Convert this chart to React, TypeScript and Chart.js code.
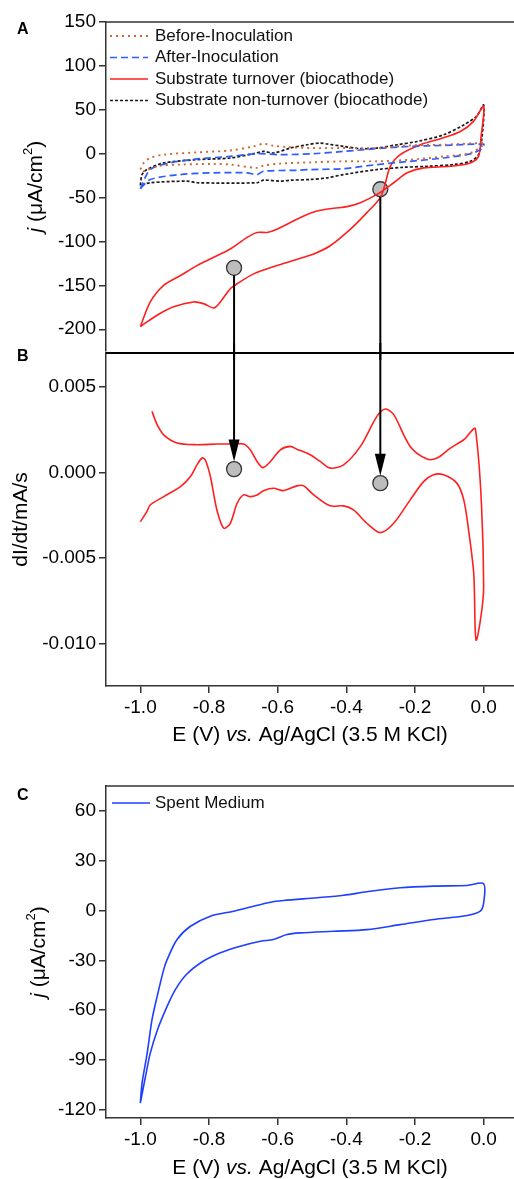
import React, { useEffect, useRef } from 'react';
import { Chart, registerables } from 'chart.js';
Chart.register(...registerables);

const FONT = '"Liberation Sans", Arial, Helvetica, sans-serif';

// ---------- shared x axis ----------
const X_MIN = -1.1;
const X_MAX = 0.1;
const X_TICKS = [-1.0, -0.8, -0.6, -0.4, -0.2, 0.0];

// ---------- Panel A ----------
const A_Y_MIN = -225;
const A_Y_MAX = 150;
const A_Y_TICKS = [150, 100, 50, 0, -50, -100, -150, -200];

const BEFORE_E = [-1.0, -0.99, -0.971, -0.932, -0.835, -0.738, -0.67, -0.641, -0.612, -0.573, -0.505, -0.408, -0.311, -0.214, -0.117, 0.0, 0.0, -0.039, -0.117, -0.214, -0.311, -0.408, -0.495, -0.592, -0.641, -0.66, -0.738, -0.786, -0.883, -0.951, -0.99, -1.0];
const BEFORE_J = [-18, -10.5, -4.9, -1.1, 1.5, 3.7, 8.3, 11.3, 9.0, 7.6, 6.4, 6.4, 6.4, 9.4, 10.2, 12.1, 10.2, 0.8, -3.1, -6.8, -8.7, -8.7, -9.8, -11.3, -13.6, -16.2, -12.4, -11.7, -12.4, -14.4, -20, -18];

const AFTER_E = [-1.0, -0.971, -0.913, -0.835, -0.738, -0.66, -0.592, -0.495, -0.408, -0.311, -0.214, -0.117, 0.0, 0.0, -0.01, -0.039, -0.117, -0.214, -0.311, -0.408, -0.505, -0.544, -0.641, -0.66, -0.689, -0.786, -0.883, -0.971, -1.0];
const AFTER_J = [-40, -18.1, -10.5, -6.0, -3.1, 0, -1.1, 0, 2.6, 5.7, 8.3, 9.4, 11.0, 9.0, 4.5, -0.3, -4.9, -8.7, -12.4, -17.0, -18.1, -18.9, -20.0, -23.8, -21.8, -21.8, -23.8, -29.4, -40];

const TURN_E = [-1.0, -0.951, -0.903, -0.845, -0.816, -0.786, -0.767, -0.738, -0.718, -0.67, -0.602, -0.534, -0.495, -0.447, -0.388, -0.34, -0.301, -0.286, -0.272, -0.243, -0.184, -0.117, -0.068, -0.03, 0.0, -0.008, -0.015, -0.039, -0.097, -0.175, -0.223, -0.262, -0.311, -0.359, -0.398, -0.437, -0.485, -0.524, -0.563, -0.602, -0.631, -0.66, -0.689, -0.738, -0.786, -0.835, -0.883, -0.932, -0.971, -1.0];
const TURN_J = [-197, -184, -174.5, -168.9, -170.8, -175.7, -168.9, -153.8, -148.2, -136.9, -127.5, -119.1, -114.3, -104.9, -86.0, -67.1, -50, -33, -14.4, -1.1, 10.2, 18.1, 25.2, 36.5, 54, 17.8, -3.1, -10.5, -14.4, -16.2, -21.8, -33.1, -46.4, -55.8, -60.3, -62.2, -65.3, -70.9, -78.4, -86.0, -89.7, -89.7, -95.4, -108.6, -118.0, -127.5, -138.8, -150.1, -168.9, -197];

const NONTURN_E = [-1.0, -0.995, -0.981, -0.932, -0.835, -0.738, -0.67, -0.641, -0.612, -0.563, -0.514, -0.476, -0.456, -0.408, -0.359, -0.311, -0.252, -0.194, -0.117, -0.058, -0.02, 0.0, -0.005, -0.015, -0.039, -0.087, -0.165, -0.233, -0.311, -0.408, -0.456, -0.505, -0.563, -0.592, -0.641, -0.66, -0.835, -0.864, -0.971, -1.0];
const NONTURN_J = [-36, -24, -18.1, -10.5, -6.8, -4.9, 0, 2.6, 0.8, 6.4, 10.2, 12.1, 11.0, 8.3, 5.7, 6.4, 10.2, 13.9, 21.5, 32.8, 43, 55.4, 17.8, -1.1, -8.7, -12.4, -14.4, -15.5, -18.1, -23.8, -27.5, -29.4, -30.2, -31.3, -30.2, -33.1, -33.1, -31.3, -33.1, -36];

// markers + arrows linking A to B
const ARROW_E = [-0.727, -0.301];
const MARK_A_J = [-130, -40.5];
const MARK_B_V = [0.0002, -0.00062];

// ---------- Panel B ----------
const B_Y_MIN = -0.0125;
const B_Y_MAX = 0.007;
const B_Y_TICKS = [0.005, 0.0, -0.005, -0.01];

const DIDT_E = [-0.966, -0.951, -0.932, -0.893, -0.835, -0.777, -0.738, -0.699, -0.68, -0.66, -0.643, -0.621, -0.592, -0.563, -0.544, -0.505, -0.476, -0.447, -0.408, -0.359, -0.311, -0.286, -0.262, -0.214, -0.165, -0.136, -0.097, -0.058, -0.024, 0.0, -0.022, -0.029, -0.044, -0.058, -0.078, -0.117, -0.146, -0.175, -0.214, -0.262, -0.301, -0.34, -0.379, -0.408, -0.447, -0.495, -0.524, -0.544, -0.583, -0.612, -0.641, -0.66, -0.68, -0.699, -0.718, -0.738, -0.757, -0.777, -0.796, -0.811, -0.82, -0.835, -0.854, -0.883, -0.932, -0.971, -0.981, -1.0];
const DIDT_V = [0.00358, 0.0028, 0.00221, 0.00173, 0.00163, 0.00167, 0.00167, 0.00167, 0.00133, 0.00065, 0.00029, 0.00065, 0.00133, 0.00153, 0.00137, 0.00104, 0.00065, 0.00026, 0.00045, 0.00153, 0.00329, 0.00372, 0.00339, 0.00153, 0.00079, 0.00085, 0.00143, 0.00192, 0.00255, -0.00669, -0.00982, -0.0059, -0.00336, -0.0016, -0.00062, -0.00013, -0.00013, -0.00053, -0.0016, -0.00297, -0.00352, -0.00297, -0.00219, -0.00195, -0.00195, -0.00131, -0.00078, -0.00078, -0.00106, -0.00092, -0.00106, -0.00131, -0.00141, -0.00131, -0.0018, -0.00297, -0.00326, -0.00219, -0.00023, 0.00075, 0.00085, 0.00045, -0.00023, -0.00082, -0.00141, -0.0019, -0.00229, -0.00288];

// ---------- Panel C ----------
const C_Y_MIN = -125;
const C_Y_MAX = 75;
const C_Y_TICKS = [60, 30, 0, -30, -60, -90, -120];

const SPENT_E = [-1.0, -0.995, -0.98, -0.966, -0.951, -0.932, -0.922, -0.893, -0.854, -0.796, -0.728, -0.67, -0.621, -0.583, -0.485, -0.408, -0.34, -0.243, -0.146, -0.048, 0.0, 0.0, -0.01, -0.048, -0.146, -0.243, -0.34, -0.437, -0.534, -0.573, -0.612, -0.65, -0.709, -0.767, -0.825, -0.866, -0.898, -0.922, -0.95, -0.971, -0.985, -1.0];
const SPENT_J = [-116, -104, -85.9, -65.8, -51.7, -35.6, -29.6, -17.5, -9.5, -3.4, -0.4, 2.6, 5.0, 6.0, 7.7, 9.2, 11.3, 13.7, 14.7, 15.1, 16.1, 4.6, -0.4, -3.0, -5.4, -8.5, -11.5, -12.5, -13.5, -14.5, -17.5, -18.5, -21.5, -25.5, -31.6, -38.6, -47.7, -57.8, -71.8, -85.9, -100, -116];

// ---------- texts ----------
const X_TITLE = [{ t: 'E (V) ' }, { t: 'vs.', i: true }, { t: ' Ag/AgCl (3.5 M KCl)' }];
const J_TITLE = [{ t: 'j', i: true }, { t: ' (\u03bcA/cm' }, { t: '2', sup: true }, { t: ')' }];
const DIDT_TITLE = [{ t: 'dI/dt/mA/s' }];

const ORANGE = '#cc6633';
const BLUE_DASH = '#2f5cff';
const RED = '#ff1f1f';
const BLACK_DOT = '#1a1a1a';
const BLUE = '#1f3fff';
const AXIS = '#333333';

type Part = { t: string; i?: boolean; sup?: boolean };

function xy(xs: number[], ys: number[]) {
  return xs.map((x, k) => ({ x, y: ys[k] }));
}

function drawRich(ctx: CanvasRenderingContext2D, parts: Part[], cx: number, cy: number, size: number, rotate: boolean) {
  ctx.save();
  ctx.translate(cx, cy);
  if (rotate) ctx.rotate(-Math.PI / 2);
  ctx.textBaseline = 'middle';
  ctx.textAlign = 'left';
  ctx.fillStyle = '#000';
  const fontOf = (p: Part) => `${p.i ? 'italic ' : ''}${p.sup ? Math.round(size * 0.62) : size}px ${FONT}`;
  let total = 0;
  const widths = parts.map((p) => {
    ctx.font = fontOf(p);
    const w = ctx.measureText(p.t).width;
    total += w;
    return w;
  });
  let x = -total / 2;
  parts.forEach((p, k) => {
    ctx.font = fontOf(p);
    ctx.fillText(p.t, x, p.sup ? -size * 0.36 : 0);
    x += widths[k];
  });
  ctx.restore();
}

function drawLegend(chart: any, x0: number, y0: number, step: number, lineLen: number, gap: number) {
  const ctx = chart.ctx as CanvasRenderingContext2D;
  let row = 0;
  chart.data.datasets.forEach((ds: any) => {
    if (!ds.inLegend) return;
    const y = y0 + row * step;
    ctx.save();
    ctx.strokeStyle = ds.borderColor;
    ctx.lineWidth = ds.borderWidth;
    ctx.setLineDash(ds.borderDash || []);
    ctx.beginPath();
    ctx.moveTo(x0, y);
    ctx.lineTo(x0 + lineLen, y);
    ctx.stroke();
    ctx.setLineDash([]);
    ctx.font = `17px ${FONT}`;
    ctx.fillStyle = '#111';
    ctx.textBaseline = 'middle';
    ctx.textAlign = 'left';
    ctx.fillText(ds.label, x0 + lineLen + gap, y);
    ctx.restore();
    row++;
  });
}

function drawTopBorder(chart: any, width: number, color: string) {
  const ctx = chart.ctx as CanvasRenderingContext2D;
  const a = chart.chartArea;
  ctx.save();
  ctx.strokeStyle = color;
  ctx.lineWidth = width;
  ctx.beginPath();
  ctx.moveTo(a.left, a.top);
  ctx.lineTo(a.right + 20, a.top);
  ctx.stroke();
  ctx.restore();
}

function drawLetter(chart: any, letter: string, x: number, y: number) {
  const ctx = chart.ctx as CanvasRenderingContext2D;
  ctx.save();
  ctx.font = `bold 16px ${FONT}`;
  ctx.fillStyle = '#000';
  ctx.textBaseline = 'alphabetic';
  ctx.textAlign = 'left';
  ctx.fillText(letter, x, y);
  ctx.restore();
}

function xScale(display: boolean, height: number) {
  return {
    type: 'linear',
    min: X_MIN,
    max: X_MAX,
    display,
    afterBuildTicks: (axis: any) => {
      axis.ticks = X_TICKS.map((v) => ({ value: v }));
    },
    afterFit: (axis: any) => {
      axis.height = height;
      axis.paddingLeft = 0;
      axis.paddingRight = 0;
    },
    ticks: {
      font: { family: FONT, size: 19 },
      color: '#000',
      padding: 3,
      maxRotation: 0,
      autoSkip: false,
      callback: (v: any) => Number(v).toFixed(1),
    },
    grid: { drawOnChartArea: false, drawTicks: true, tickLength: 7, color: AXIS, lineWidth: 1.5 },
    border: { display: true, color: AXIS, width: 1.5 },
  };
}

function yScale(min: number, max: number, ticks: number[], digits: number) {
  return {
    type: 'linear',
    position: 'left',
    min,
    max,
    afterBuildTicks: (axis: any) => {
      axis.ticks = ticks.map((v) => ({ value: v }));
    },
    afterFit: (axis: any) => {
      axis.width = 106;
      axis.paddingTop = 0;
      axis.paddingBottom = 0;
    },
    ticks: {
      font: { family: FONT, size: 19 },
      color: '#000',
      padding: 3,
      autoSkip: false,
      callback: (v: any) => Number(v).toFixed(digits),
    },
    grid: { drawOnChartArea: false, drawTicks: true, tickLength: 7, color: AXIS, lineWidth: 1.5 },
    border: { display: true, color: AXIS, width: 1.5 },
  };
}

function lineSet(label: string, xs: number[], ys: number[], color: string, dash: number[], width: number, inLegend: boolean) {
  return {
    label,
    data: xy(xs, ys),
    showLine: true,
    borderColor: color,
    backgroundColor: color,
    borderWidth: width,
    borderDash: dash,
    pointRadius: 0,
    pointHoverRadius: 0,
    tension: 0.3,
    fill: false,
    inLegend,
  };
}

function markerSet(xs: number[], ys: number[]) {
  return {
    label: 'markers',
    data: xy(xs, ys),
    showLine: false,
    pointRadius: 7.5,
    pointHoverRadius: 7.5,
    pointBackgroundColor: '#bdbdbd',
    pointBorderColor: '#333',
    pointBorderWidth: 1.3,
    inLegend: false,
  };
}

const common = {
  responsive: false,
  animation: false,
  devicePixelRatio: 1,
  events: [],
  plugins: { legend: { display: false }, tooltip: { enabled: false } },
};

export default function App() {
  const refA = useRef<HTMLCanvasElement>(null);
  const refB = useRef<HTMLCanvasElement>(null);
  const refC = useRef<HTMLCanvasElement>(null);

  useEffect(() => {
    const charts: Chart[] = [];

    // ----- Panel A -----
    const chartA = new Chart(refA.current as HTMLCanvasElement, {
      type: 'scatter',
      data: {
        datasets: [
          lineSet('Before-Inoculation', BEFORE_E, BEFORE_J, ORANGE, [2, 4], 1.9, true),
          lineSet('After-Inoculation', AFTER_E, AFTER_J, BLUE_DASH, [7, 4], 1.7, true),
          lineSet('Substrate turnover (biocathode)', TURN_E, TURN_J, RED, [], 1.6, true),
          lineSet('Substrate non-turnover (biocathode)', NONTURN_E, NONTURN_J, BLACK_DOT, [3, 2], 1.7, true),
          markerSet(ARROW_E, MARK_A_J),
        ] as any,
      },
      options: {
        ...common,
        layout: { padding: { left: 0, top: 22, right: 22, bottom: 7 } },
        scales: {
          x: xScale(false, 0),
          y: yScale(A_Y_MIN, A_Y_MAX, A_Y_TICKS, 0),
        },
      } as any,
      plugins: [
        {
          id: 'decorA',
          afterDatasetsDraw(chart: any) {
            const ctx = chart.ctx as CanvasRenderingContext2D;
            const xs = chart.scales.x;
            const ys = chart.scales.y;
            ctx.save();
            ctx.strokeStyle = '#000';
            ctx.lineWidth = 2;
            ARROW_E.forEach((e, k) => {
              const px = xs.getPixelForValue(e);
              const py = ys.getPixelForValue(MARK_A_J[k]);
              ctx.beginPath();
              ctx.moveTo(px, py + 7.5);
              ctx.lineTo(px, chart.height);
              ctx.stroke();
            });
            ctx.restore();
          },
          afterDraw(chart: any) {
            drawTopBorder(chart, 1.5, AXIS);
            drawLetter(chart, 'A', 17, 34);
            drawRich(chart.ctx, J_TITLE, 36, (chart.chartArea.top + chart.chartArea.bottom) / 2, 21, true);
            drawLegend(chart, 110, 36, 21.5, 38, 7);
          },
        },
      ],
    });
    charts.push(chartA);

    // ----- Panel B -----
    const chartB = new Chart(refB.current as HTMLCanvasElement, {
      type: 'scatter',
      data: {
        datasets: [
          lineSet('dI/dt', DIDT_E, DIDT_V, RED, [], 1.6, false),
          markerSet(ARROW_E, MARK_B_V),
        ] as any,
      },
      options: {
        ...common,
        layout: { padding: { left: 0, top: 10, right: 22, bottom: 0 } },
        scales: {
          x: xScale(true, 77),
          y: yScale(B_Y_MIN, B_Y_MAX, B_Y_TICKS, 3),
        },
      } as any,
      plugins: [
        {
          id: 'decorB',
          afterDatasetsDraw(chart: any) {
            const ctx = chart.ctx as CanvasRenderingContext2D;
            const xs = chart.scales.x;
            const ys = chart.scales.y;
            ctx.save();
            ctx.strokeStyle = '#000';
            ctx.fillStyle = '#000';
            ctx.lineWidth = 2;
            ARROW_E.forEach((e, k) => {
              const px = xs.getPixelForValue(e);
              const tip = ys.getPixelForValue(MARK_B_V[k]) - 7.5;
              const headLen = 22;
              const half = 5.5;
              ctx.beginPath();
              ctx.moveTo(px, 0);
              ctx.lineTo(px, tip - headLen + 2);
              ctx.stroke();
              ctx.beginPath();
              ctx.moveTo(px - half, tip - headLen);
              ctx.lineTo(px + half, tip - headLen);
              ctx.lineTo(px, tip);
              ctx.closePath();
              ctx.fill();
            });
            ctx.restore();
          },
          afterDraw(chart: any) {
            drawTopBorder(chart, 2, '#000');
            drawLetter(chart, 'B', 17, 18);
            const a = chart.chartArea;
            drawRich(chart.ctx, DIDT_TITLE, 21, (a.top + a.bottom) / 2, 21, true);
            drawRich(chart.ctx, X_TITLE, (a.left + a.right) / 2 - 2, a.bottom + 49, 21, false);
          },
        },
      ],
    });
    charts.push(chartB);

    // ----- Panel C -----
    const chartC = new Chart(refC.current as HTMLCanvasElement, {
      type: 'scatter',
      data: {
        datasets: [lineSet('Spent Medium', SPENT_E, SPENT_J, BLUE, [], 1.6, true)] as any,
      },
      options: {
        ...common,
        layout: { padding: { left: 0, top: 26, right: 22, bottom: 0 } },
        scales: {
          x: xScale(true, 61),
          y: yScale(C_Y_MIN, C_Y_MAX, C_Y_TICKS, 0),
        },
      } as any,
      plugins: [
        {
          id: 'decorC',
          afterDraw(chart: any) {
            drawTopBorder(chart, 1.5, AXIS);
            drawLetter(chart, 'C', 17, 40);
            const a = chart.chartArea;
            drawRich(chart.ctx, J_TITLE, 39, (a.top + a.bottom) / 2, 21, true);
            drawRich(chart.ctx, X_TITLE, (a.left + a.right) / 2 - 2, a.bottom + 50, 21, false);
            drawLegend(chart, 112, 43, 21.5, 38, 5);
          },
        },
      ],
    });
    charts.push(chartC);

    return () => {
      charts.forEach((c) => c.destroy());
    };
  }, []);

  const cv = (top: number, h: number): React.CSSProperties => ({
    position: 'absolute',
    left: 0,
    top,
    width: 540,
    height: h,
  });

  return (
    <div
      style={{
        position: 'fixed',
        left: 0,
        top: 0,
        width: 514,
        height: 1179,
        overflow: 'hidden',
        background: '#fff',
      }}
    >
      <canvas ref={refA} width={540} height={360} style={cv(0, 360)} />
      <canvas ref={refB} width={540} height={420} style={cv(343, 420)} />
      <canvas ref={refC} width={540} height={419} style={cv(760, 419)} />
    </div>
  );
}
